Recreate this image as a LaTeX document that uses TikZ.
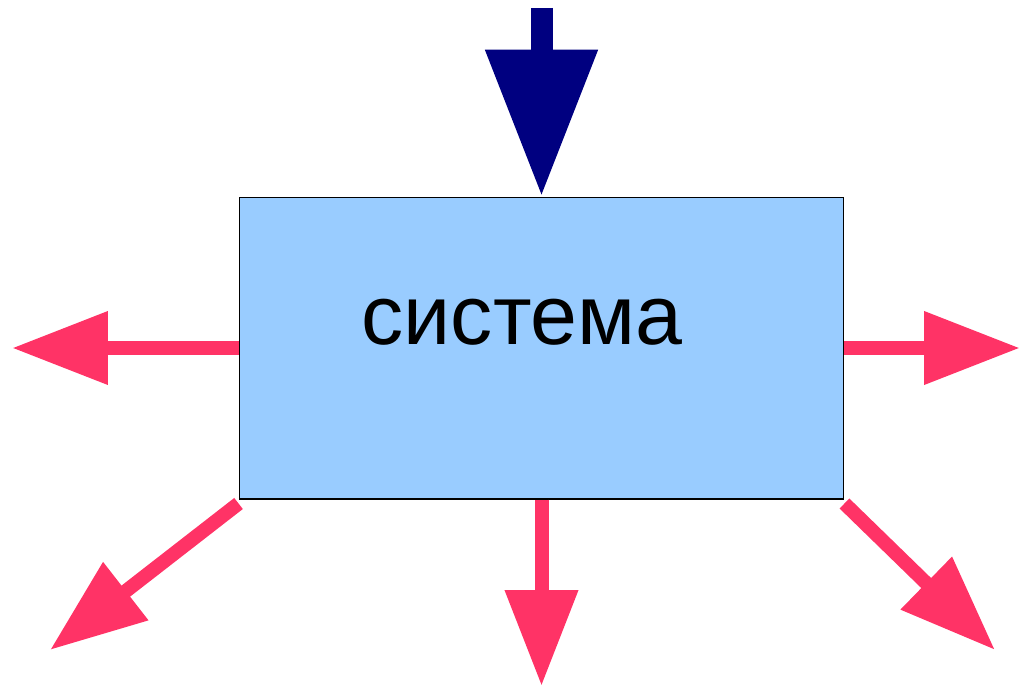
\documentclass[tikz,border=0pt]{standalone}
\usepackage{fontspec}
\setmainfont{Liberation Sans}
\usetikzlibrary{arrows.meta}
\definecolor{boxblue}{HTML}{99CCFF}
\definecolor{pinkarr}{HTML}{FF3366}
\definecolor{navyarr}{HTML}{000080}
\begin{document}
\begin{tikzpicture}[x=0.02cm,y=-0.02cm,
  sysbox/.style={draw=black,line width=0.6pt,fill=boxblue,minimum width=12.1cm,minimum height=6.04cm,inner sep=0pt},
  systext/.style={inner sep=0pt,font=\fontsize{48}{58}\selectfont},
  outarrow/.style={draw=pinkarr,line width=0.28cm,-{Triangle[length=1.92cm,width=1.4cm]}},
  inarrow/.style={draw=navyarr,line width=0.44cm,-{Triangle[length=2.94cm,width=2.14cm]}}]
\useasboundingbox (0,0) rectangle (1020,686);
\node[sysbox] (sys) at (541.5,348) {};
\node[systext] (label) at (522,322) {система};
\coordinate (topstart) at (541.5,8);
\coordinate (lefttip) at (12,348);
\coordinate (righttip) at (1020,348);
\coordinate (bottomtip) at (541.5,686);
\coordinate (bltip) at (50,650);
\coordinate (brtip) at (995,650);
\draw[inarrow] (topstart) -- (sys.north);
\draw[outarrow] (sys.west) -- (lefttip);
\draw[outarrow] (sys.east) -- (righttip);
\draw[outarrow] (sys.south) -- (bottomtip);
\draw[outarrow] ([shift={(0,4)}]sys.south west) -- (bltip);
\draw[outarrow] ([shift={(0,4)}]sys.south east) -- (brtip);
\end{tikzpicture}
\end{document}
